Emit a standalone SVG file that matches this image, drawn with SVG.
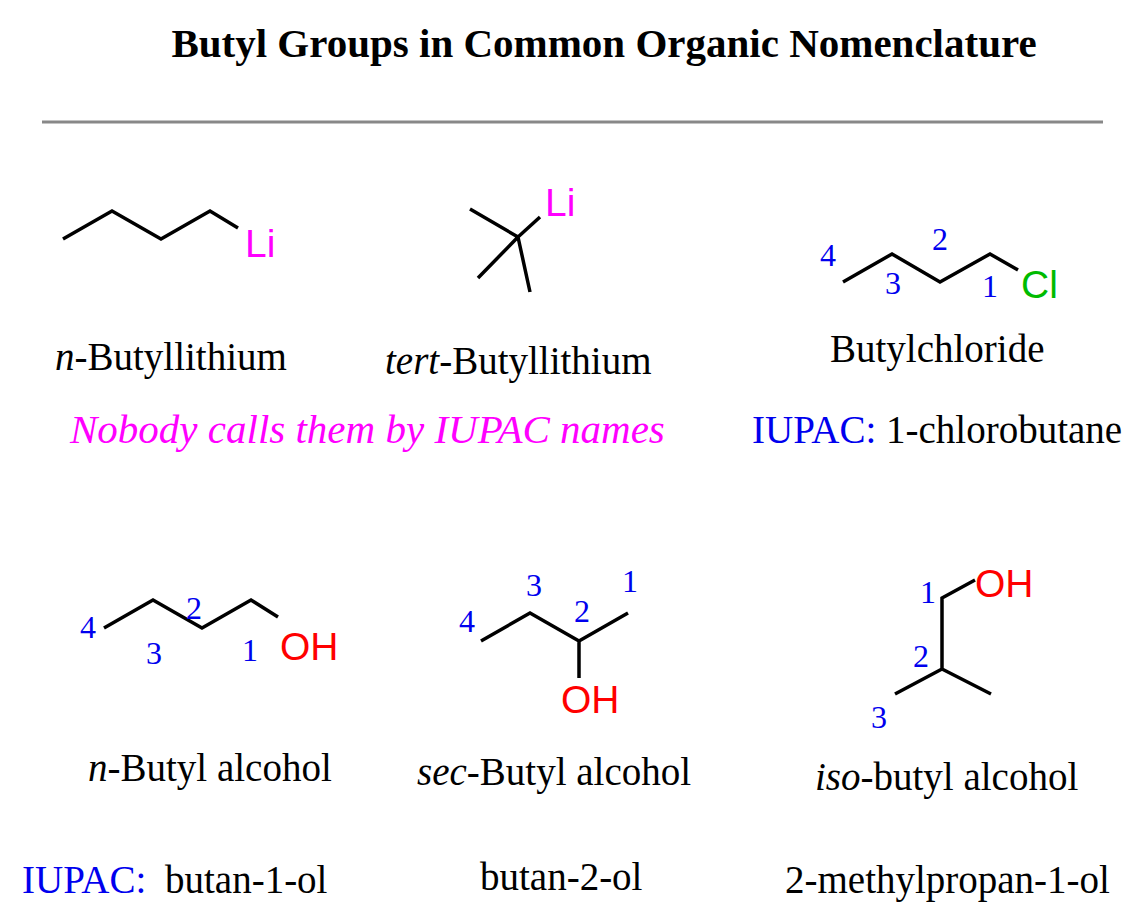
<svg xmlns="http://www.w3.org/2000/svg" width="1143" height="915" viewBox="0 0 1143 915">
<style>
.b{fill:none;stroke:#000;stroke-width:3.5;stroke-linejoin:miter}
.s{font-family:"Liberation Serif",serif;font-size:39px;fill:#000}
.n{font-family:"Liberation Serif",serif;font-size:32px;fill:#0000ee}
.a{font-family:"Liberation Sans",sans-serif;font-size:39px}
</style>
<rect width="1143" height="915" fill="#fff"/>
<text x="604" y="57" text-anchor="middle" class="s" style="font-weight:bold;font-size:41px">Butyl Groups in Common Organic Nomenclature</text>
<line x1="42" y1="122" x2="1103" y2="122" stroke="#888" stroke-width="3"/>
<polyline class="b" points="63,239 112,211 161,239 210,211 238,228"/>
<text x="245" y="257" class="a" fill="#f0f">Li</text>
<path class="b" d="M518,237 L470,209 M518,237 L478,278 M518,237 L530,292 M518,237 L540,217"/>
<text x="545" y="216" class="a" fill="#f0f">Li</text>
<polyline class="b" points="843,282 892,254 940,282 990,254 1018,270"/>
<text x="1021" y="298" class="a" fill="#0b0">Cl</text>
<text x="820" y="266" class="n">4</text><text x="885" y="294" class="n">3</text><text x="932" y="250" class="n">2</text><text x="982" y="297" class="n">1</text>
<text x="55" y="370" class="s"><tspan font-style="italic">n</tspan>-Butyllithium</text>
<text x="385" y="374" class="s"><tspan font-style="italic">tert</tspan>-Butyllithium</text>
<text x="830" y="362" class="s">Butylchloride</text>
<text x="70" y="443" class="s" style="fill:#f0f;font-style:italic;font-size:41px">Nobody calls them by IUPAC names</text>
<text x="752" y="443" class="s"><tspan style="fill:#0000ee">IUPAC:</tspan> 1-chlorobutane</text>
<polyline class="b" points="104,628 153,600 202,628 251,600 278,617"/>
<text x="280" y="660" class="a" fill="#f00">OH</text>
<text x="80" y="638" class="n">4</text><text x="146" y="664" class="n">3</text><text x="186" y="619" class="n">2</text><text x="242" y="661" class="n">1</text>
<path class="b" d="M481,641 L530,613 L579,641 L628,613 M579,641 L579,678"/>
<text x="561" y="713" class="a" fill="#f00">OH</text>
<text x="459" y="632" class="n">4</text><text x="526" y="596" class="n">3</text><text x="574" y="622" class="n">2</text><text x="622" y="592" class="n">1</text>
<path class="b" d="M975,580 L942,598 L942,669 L895,694 M942,669 L991,694"/>
<text x="975" y="597" class="a" fill="#f00">OH</text>
<text x="920" y="603" class="n">1</text><text x="913" y="667" class="n">2</text><text x="871" y="728" class="n">3</text>
<text x="88" y="781" class="s"><tspan font-style="italic">n</tspan>-Butyl alcohol</text>
<text x="417" y="785" class="s"><tspan font-style="italic">sec</tspan>-Butyl alcohol</text>
<text x="815" y="790" class="s"><tspan font-style="italic">iso</tspan>-butyl alcohol</text>
<text x="22" y="893" class="s"><tspan style="fill:#0000ee">IUPAC:</tspan><tspan x="165">butan-1-ol</tspan></text>
<text x="480" y="890" class="s">butan-2-ol</text>
<text x="785" y="893" class="s">2-methylpropan-1-ol</text>
</svg>
